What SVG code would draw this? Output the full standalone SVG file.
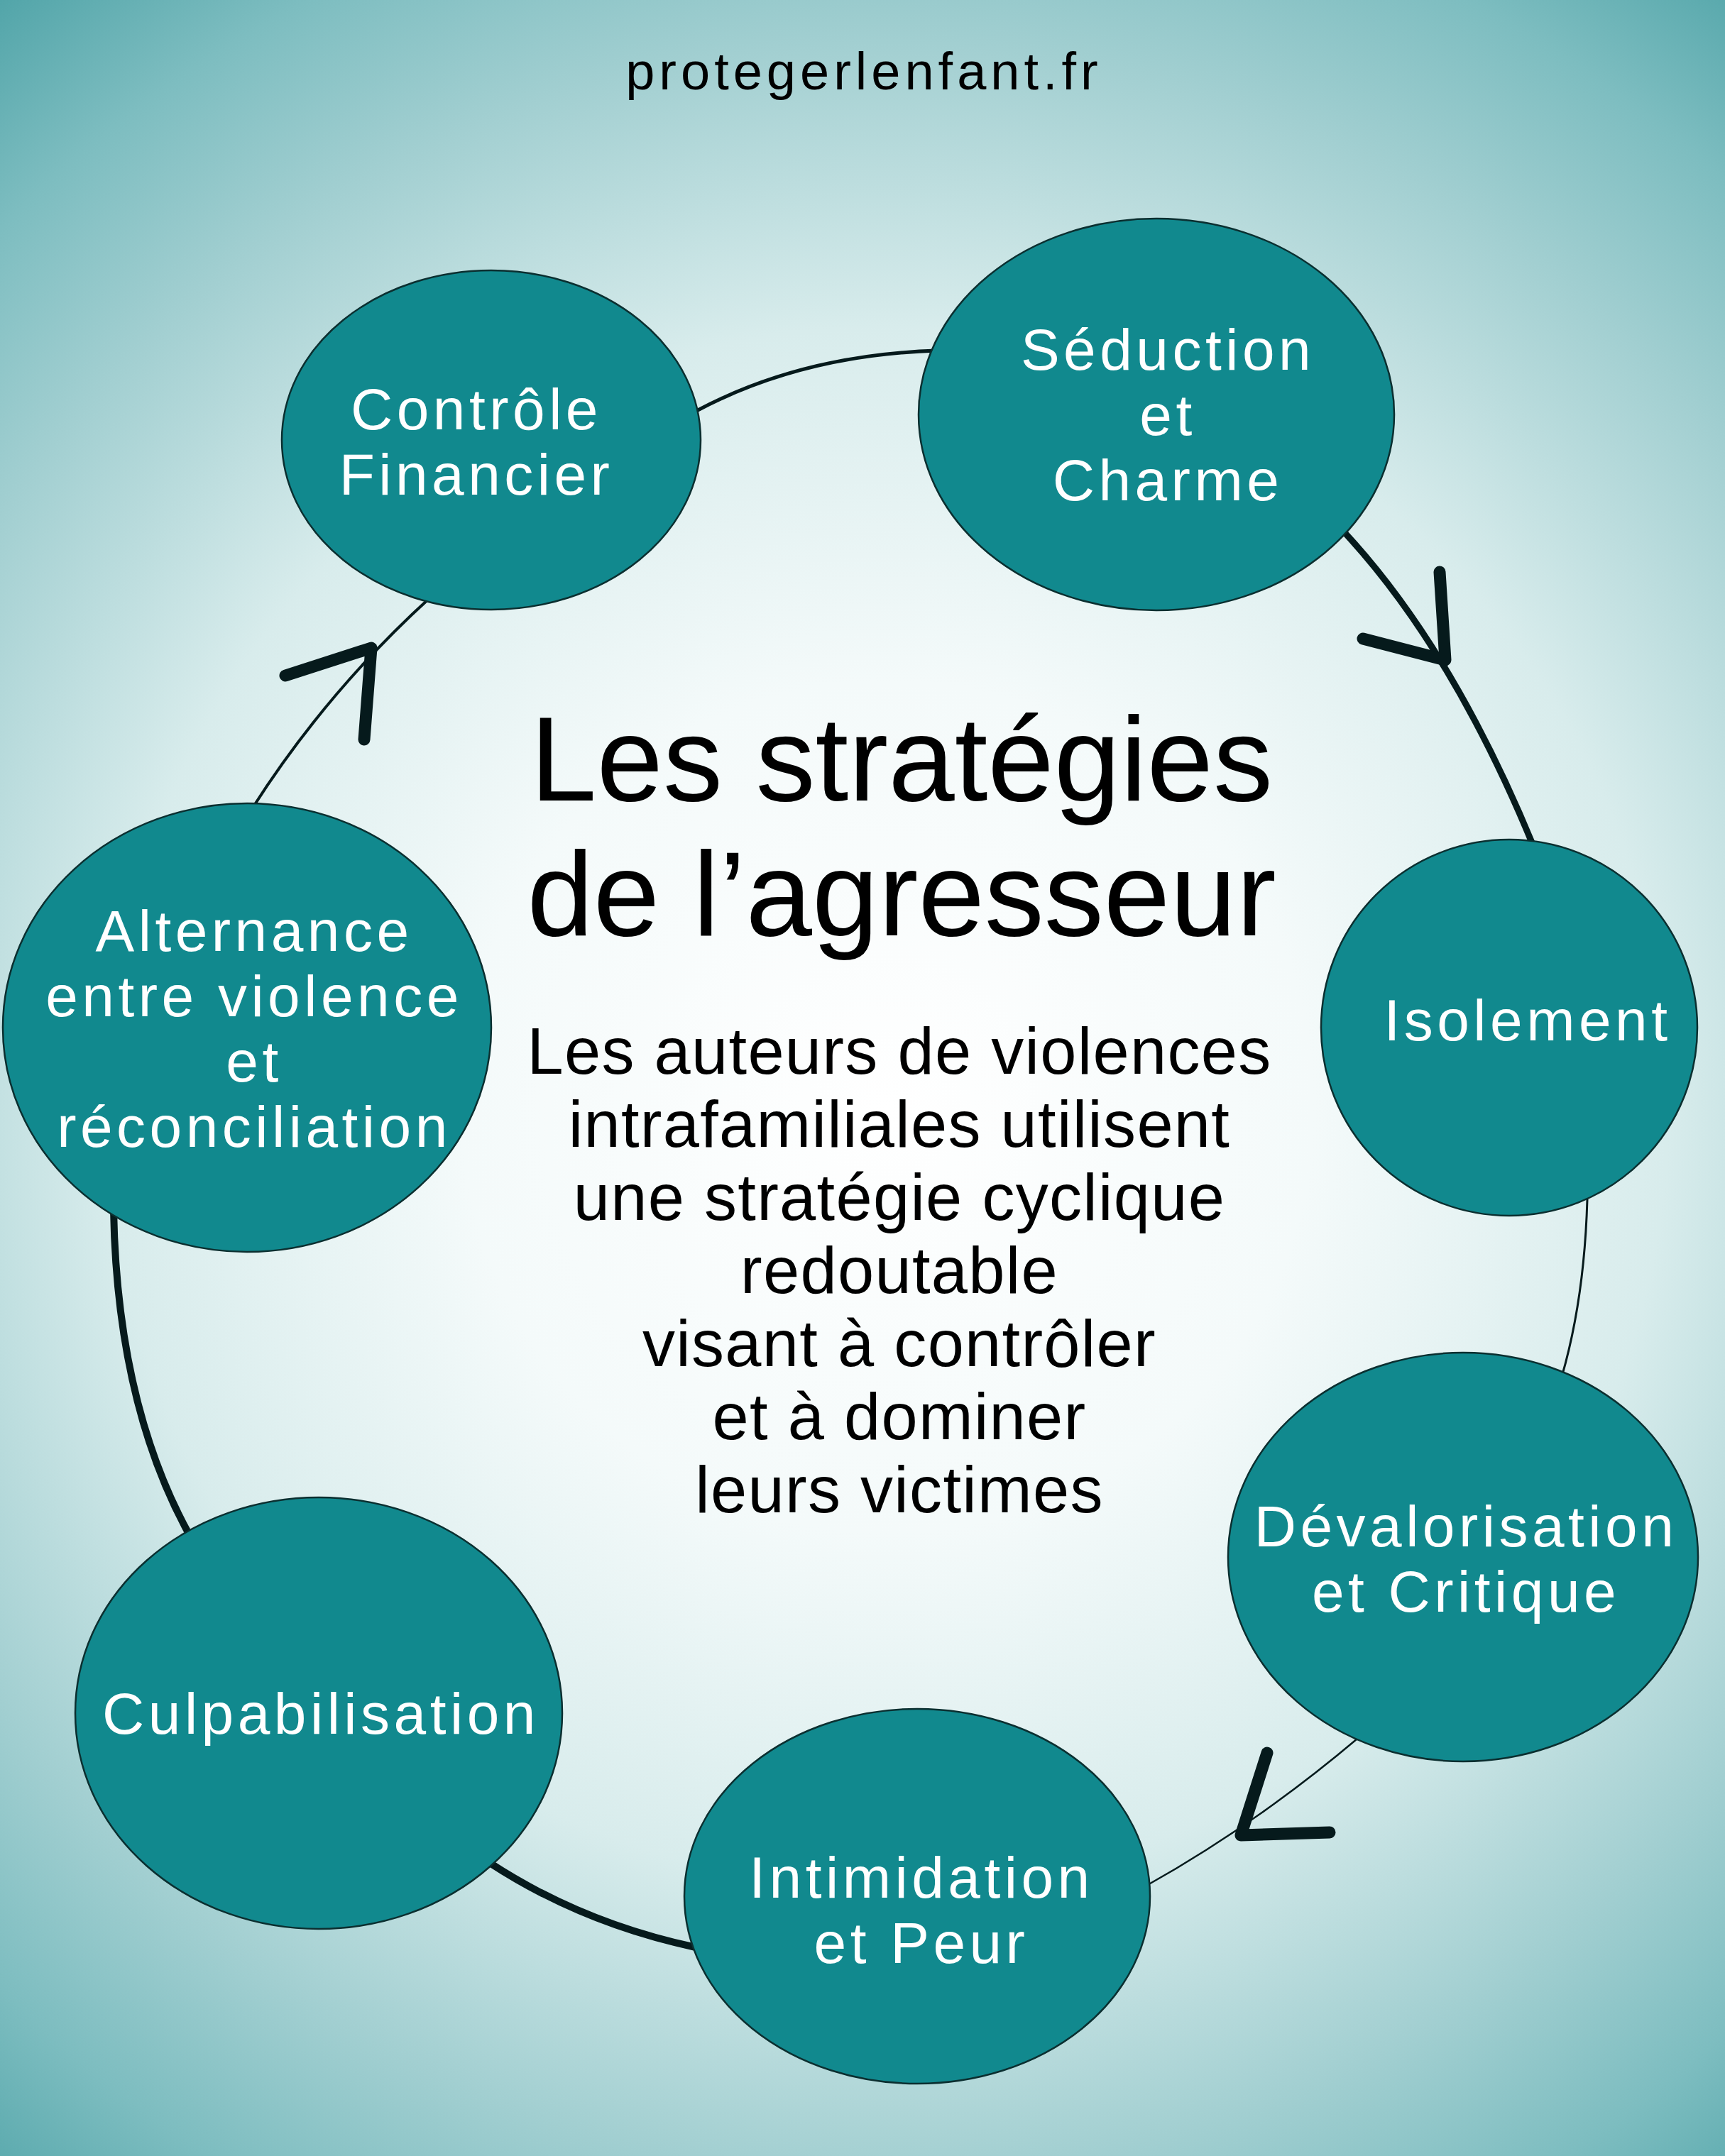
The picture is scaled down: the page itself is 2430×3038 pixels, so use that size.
<svg xmlns="http://www.w3.org/2000/svg" width="2430" height="3038" viewBox="0 0 2430 3038">
<defs>
<radialGradient id="bg" gradientUnits="userSpaceOnUse" cx="1250" cy="1560" r="2000">
<stop offset="0" stop-color="#ffffff"/>
<stop offset="0.3" stop-color="#f4fafa"/>
<stop offset="0.55" stop-color="#d8ecec"/>
<stop offset="0.75" stop-color="#a2cfd1"/>
<stop offset="0.88" stop-color="#7dbdc0"/>
<stop offset="1" stop-color="#52a5a9"/>
</radialGradient>
<style>
.node{fill:#11898e;stroke:#0b2f30;stroke-width:2.5}
.lbl{font-family:"Liberation Sans",Arial,sans-serif;font-size:82px;fill:#ffffff;text-anchor:middle;letter-spacing:5.5px}
.arc{fill:none;stroke:#061a1c;stroke-linecap:round}
.head{fill:none;stroke:#061a1c;stroke-width:17;stroke-linecap:round;stroke-linejoin:round}
.body{font-family:"Liberation Sans",Arial,sans-serif;font-size:92px;fill:#000;text-anchor:middle;letter-spacing:1.3px}
.title{font-family:"Liberation Sans",Arial,sans-serif;font-size:168px;fill:#000;text-anchor:middle}
</style>
</defs>
<rect width="2430" height="3038" fill="url(#bg)"/>
<text x="1217" y="126" font-family="'Liberation Sans',Arial,sans-serif" font-size="74" letter-spacing="6" fill="#000" text-anchor="middle">protegerlenfant.fr</text>

<g id="connectors">
<path class="arc" stroke-width="5" d="M983,578 Q1130,500 1320,494"/>
<path class="arc" stroke-width="9" d="M1890,746 Q2044,910 2160,1192"/>
<path class="arc" stroke-width="3" d="M2236,1690 Q2232,1830 2200,1940"/>
<path class="arc" stroke-width="2.5" d="M1912,2450 Q1770,2570 1615,2657"/>
<path class="arc" stroke-width="10" d="M980,2744 Q820,2710 690,2625"/>
<path class="arc" stroke-width="10" d="M160,1705 Q165,1980 268,2165"/>
<path class="arc" stroke-width="4" d="M356,1138 Q460,975 606,842"/>
<polyline class="head" points="2028,806 2036,930 1920,900"/>
<polyline class="head" points="1785,2470 1748,2586 1873,2582"/>
<polyline class="head" points="402,952 523,913 513,1042"/>
</g>

<g id="n-controle">
<ellipse class="node" cx="692" cy="620" rx="295" ry="239"/>
<text class="lbl"><tspan x="671" y="605">Contrôle</tspan><tspan x="671" y="697">Financier</tspan></text>
</g>
<g id="n-seduction">
<ellipse class="node" cx="1629" cy="584" rx="335" ry="276"/>
<text class="lbl"><tspan x="1645" y="521">Séduction</tspan><tspan x="1645" y="613">et</tspan><tspan x="1645" y="705">Charme</tspan></text>
</g>
<g id="n-isolement">
<ellipse class="node" cx="2126" cy="1448" rx="265" ry="265"/>
<text class="lbl" x="2152" y="1466">Isolement</text>
</g>
<g id="n-devalorisation">
<ellipse class="node" cx="2061" cy="2194" rx="331" ry="288"/>
<text class="lbl"><tspan x="2065" y="2179">Dévalorisation</tspan><tspan x="2065" y="2271">et Critique</tspan></text>
</g>
<g id="n-intimidation">
<ellipse class="node" cx="1292" cy="2672" rx="328" ry="264"/>
<text class="lbl"><tspan x="1298" y="2674">Intimidation</tspan><tspan x="1298" y="2766">et Peur</tspan></text>
</g>
<g id="n-culpabilisation">
<ellipse class="node" cx="449" cy="2414" rx="343" ry="304"/>
<text class="lbl" x="452" y="2443">Culpabilisation</text>
</g>
<g id="n-alternance">
<ellipse class="node" cx="348" cy="1448" rx="344" ry="316"/>
<text class="lbl"><tspan x="358" y="1340">Alternance</tspan><tspan x="358" y="1432">entre violence</tspan><tspan x="358" y="1524">et</tspan><tspan x="358" y="1616">réconciliation</tspan></text>
</g>

<g id="center">
<text class="title"><tspan x="1270" y="1128">Les stratégies</tspan><tspan x="1270" y="1318">de l’agresseur</tspan></text>
<text class="body"><tspan x="1267" y="1513">Les auteurs de violences</tspan><tspan x="1267" y="1616">intrafamiliales utilisent</tspan><tspan x="1267" y="1719">une stratégie cyclique</tspan><tspan x="1267" y="1822">redoutable</tspan><tspan x="1267" y="1925">visant à contrôler</tspan><tspan x="1267" y="2028">et à dominer</tspan><tspan x="1267" y="2131">leurs victimes</tspan></text>
</g>
</svg>
